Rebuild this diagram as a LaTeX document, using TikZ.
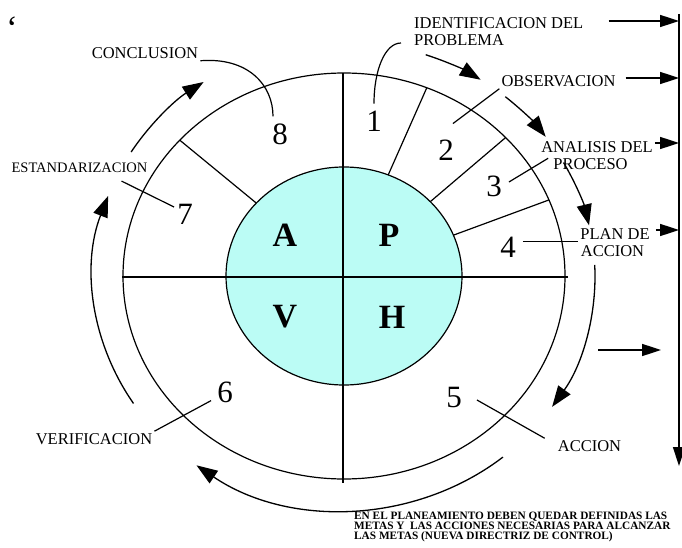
\documentclass[tikz,border=0pt]{standalone}
\usepackage{fontspec}
\setmainfont{Liberation Serif}
\usetikzlibrary{arrows.meta}
\definecolor{phasecyan}{HTML}{BBFCF5}

\begin{document}
\begin{tikzpicture}[
  x=1pt,y=-1pt,
  ring/.style={line width=1.2pt},
  cross/.style={line width=1.8pt},
  lead/.style={line width=1.2pt},
  cyc/.style={line width=1.3pt,-{Triangle[length=21pt,width=15pt]}},
  outarrow/.style={line width=1.6pt,-{Triangle[length=19pt,width=12pt]}},
  lbl/.style={font=\fontsize{16.5}{17}\selectfont,inner sep=2pt},
  num/.style={font=\fontsize{31}{31}\selectfont,inner sep=3pt},
  phase/.style={font=\fontsize{34}{34}\selectfont\bfseries,inner sep=0pt},
  note/.style={font=\fontsize{11.3}{10}\selectfont\bfseries,align=left,inner sep=0pt}
]
\useasboundingbox (0,0) rectangle (682,548);
\coordinate (O) at (344,276);
\coordinate (bar) at (679,14);
\coordinate (barend) at (679,466);

% wheel
\draw[ring] (O) ellipse [x radius=221,y radius=203];
\filldraw[ring,fill=phasecyan] (O) ellipse [x radius=118,y radius=109];
\draw[cross] (122,277) -- (568,277);
\draw[cross] (343,73) -- (343,483);
\draw[ring] ([shift={(-68:118 and 109)}]O) -- ([shift={(-68:221 and 203)}]O);
\draw[ring] ([shift={(-43:118 and 109)}]O) -- ([shift={(-43:221 and 203)}]O);
\draw[ring] ([shift={(-22:118 and 109)}]O) -- ([shift={(-22:221 and 203)}]O);
\draw[ring] ([shift={(-138:118 and 109)}]O) -- ([shift={(-138:221 and 203)}]O);

% cycle arrows round the wheel
\draw[cyc] ([shift={(289:251 and 234)}]O) arc[start angle=289,end angle=303,x radius=251,y radius=234];
\draw[cyc] ([shift={(310:251 and 234)}]O) arc[start angle=310,end angle=323.5,x radius=251,y radius=234];
\draw[cyc] ([shift={(331:251 and 234)}]O) arc[start angle=331,end angle=347.5,x radius=251,y radius=234];
\draw[cyc] ([shift={(-2.7:251 and 234)}]O) arc[start angle=-2.7,end angle=34,x radius=251,y radius=234];
\draw[cyc] ([shift={(50.7:251 and 234)}]O) arc[start angle=50.7,end angle=126,x radius=251,y radius=234];
\draw[cyc] ([shift={(147:251 and 234)}]O) arc[start angle=147,end angle=200,x radius=251,y radius=234];
\draw[cyc] ([shift={(212:251 and 234)}]O) arc[start angle=212,end angle=236,x radius=251,y radius=234];

% phases
\node[phase] (pA) at (285,235) {A};
\node[phase] (pP) at (389,235) {P};
\node[phase] (pV) at (285,317) {V};
\node[phase] (pH) at (392,317) {H};

% steps
\node[num] (n1) at (374,121) {1};
\node[num] (n2) at (446,150) {2};
\node[num] (n3) at (494,186) {3};
\node[num] (n4) at (508,247) {4};
\node[num] (n5) at (454,397) {5};
\node[num] (n6) at (225,392) {6};
\node[num] (n7) at (185,214) {7};
\node[num] (n8) at (280,134) {8};

\node[lbl,font=\fontsize{34}{34}\selectfont] (tick) at (12,28) {‘};
\node[lbl] (concl) at (145,53) {CONCLUSION};
\node[lbl,font=\fontsize{14.5}{17}\selectfont] (estand) at (79.5,168) {ESTANDARIZACION};
\node[lbl,anchor=west] (ident) at (412,23) {IDENTIFICACION DEL};
\node[lbl,anchor=west] (identb) at (412,40) {PROBLEMA};
\node[lbl] (obs) at (558.5,81) {OBSERVACION};
\node[lbl] (anal) at (597,147) {ANALISIS DEL};
\node[lbl] (analb) at (590.5,164) {PROCESO};
\node[lbl] (plan) at (615,234) {PLAN DE};
\node[lbl] (planb) at (612.5,251) {ACCION};
\node[lbl] (accion) at (589.5,446) {ACCION};
\node[lbl] (verif) at (94,439) {VERIFICACION};
\node[note,anchor=north west] (note) at (354,512) {EN EL PLANEAMIENTO DEBEN QUEDAR DEFINIDAS LAS\\METAS Y\ \ LAS ACCIONES NECESARIAS PARA ALCANZAR\\LAS METAS (NUEVA DIRECTRIZ DE CONTROL)};

% leaders
\draw[lead] (concl.south east) .. controls (248,57) and (273,85) .. ([xshift=-7pt,yshift=4pt]n8.north);
\draw[lead] ([xshift=-11pt,yshift=-3pt]identb.west) .. controls (385,43) and (374,70) .. ([yshift=4pt]n1.north);
\draw[lead] (obs.south west) -- ([xshift=-4pt,yshift=13pt]n2.north east);
\draw[lead] ([xshift=-3pt,yshift=-2pt]analb.north west) -- ([xshift=4pt,yshift=4pt]n3.east);
\draw[lead] ([xshift=4pt]n4.east |- plan.south west) -- (plan.south west);
\draw[lead] ([xshift=12pt,yshift=-3pt]n5.east) -- ([xshift=-11pt]accion.north west);
\draw[lead] (verif.north east) -- ([xshift=-3pt,yshift=5pt]n6.south west);
\draw[lead] ([xshift=42pt,yshift=-6pt]estand.south) -- ([yshift=7pt]n7.west);

% outputs to the bar
\draw[outarrow] (bar) -- (barend);
\draw[outarrow] ([xshift=23pt,yshift=2pt]ident.east) -- ([yshift=2pt]ident.east -| bar);
\draw[outarrow] ([xshift=8pt,yshift=3pt]obs.east) -- ([yshift=3pt]obs.east -| bar);
\draw[outarrow] ([yshift=4pt]anal.east) -- ([yshift=4pt]anal.east -| bar);
\draw[outarrow] ([xshift=4pt,yshift=4pt]plan.east) -- ([yshift=4pt]plan.east -| bar);
\coordinate (hs) at (598,350);
\coordinate (he) at (661,350);
\draw[outarrow] (hs) -- (he);
\end{tikzpicture}
\end{document}
